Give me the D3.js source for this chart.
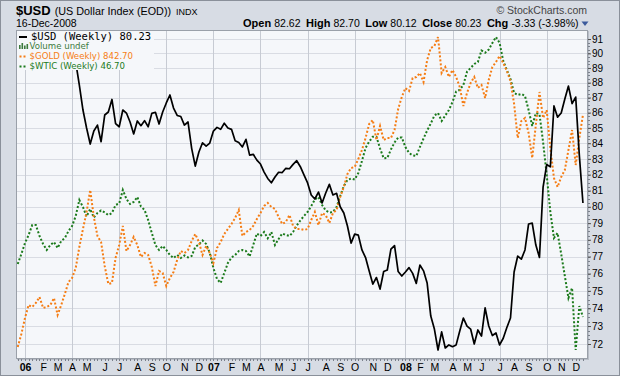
<!DOCTYPE html>
<html lang="en">
<head>
<meta charset="UTF-8">
<title>$USD (US Dollar Index) weekly</title>
<script src="https://d3js.org/d3.v7.min.js"></script>
<style>
  body { margin: 0; background: #fff; }
  svg { display: block; font-family: "Liberation Sans", Arial, sans-serif; }
</style>
</head>
<body>
<svg id="chart" width="620" height="376"></svg>
<script>
// weekly closes, Dec 19 2005 .. Dec 15 2008 (157 bars)
const usd = [
  90.2, 90.5, 90.1, 89.8, 90.3, 90.6, 90.0, 89.7, 89.9, 90.3, 90.5, 90.1, 89.8, 90.0, 89.6, 89.5, 89.4,
  87.84, 86.17, 84.99, 83.95, 84.79, 85.18, 84.10, 85.84, 86.04, 86.87, 85.28, 85.07, 86.17, 85.97,
  85.38, 84.60, 85.45, 85.14, 85.47, 85.07, 85.95, 86.02, 85.25, 86.04, 86.64, 87.17, 86.30, 85.81,
  85.74, 85.18, 85.38, 83.67, 82.54, 83.44, 84.03, 83.82, 84.01, 84.79, 85.03, 84.90, 85.30, 84.99,
  84.90, 84.16, 84.05, 83.76, 84.25, 83.24, 83.29, 82.92, 82.67, 82.16, 81.76, 81.49, 81.85, 82.15,
  82.13, 82.40, 82.37, 82.65, 82.88, 82.50, 81.98, 81.48, 80.73, 80.48, 80.91, 80.23, 80.85, 81.39,
  80.73, 80.83, 80.00, 79.62, 78.83, 77.80, 78.34, 78.28, 77.39, 76.94, 76.15, 75.39, 75.77, 75.10,
  76.12, 76.21, 77.44, 77.65, 76.12, 75.86, 76.09, 76.35, 76.01, 75.43, 76.50, 76.16, 75.45, 73.56,
  72.83, 71.67, 72.67, 71.78, 71.95, 71.85, 71.95, 72.72, 73.45, 73.00, 72.83, 72.00, 72.78, 72.44,
  74.02, 73.00, 72.47, 72.61, 71.95, 72.32, 72.92, 73.45, 76.09, 77.03, 76.85, 77.39, 78.95, 79.00,
  77.68, 76.95, 81.22, 82.64, 82.49, 86.44, 85.70, 85.97, 86.90, 87.77, 86.60, 87.03, 83.24, 80.23
];
const gold = [
  536.5, 556, 580, 599.5, 596.5, 602.5, 611.5, 595, 596.5, 599.5, 610, 584.5, 599.5, 616, 634, 640,
  655, 686.5, 713.5, 739, 772, 731.5, 703, 694, 658, 631, 632.5, 670, 689.5, 718, 680.5, 689.5,
  701.5, 689.5, 671.5, 677.5, 674.5, 656.5, 628, 650.5, 647.5, 628, 640, 649, 667, 680.5, 677.5, 682,
  695.5, 706, 694, 674.5, 688, 677.5, 662.5, 685, 694, 706, 713.5, 721, 730, 742, 703, 709, 712,
  718, 728.5, 737.5, 748, 752.5, 746.5, 743.5, 731.5, 721, 724, 734.5, 718, 713.5, 713.5, 712, 713.5,
  727, 739, 719.5, 737.5, 734.5, 722.5, 737.5, 742, 761.5, 776.5, 796, 805, 806.5, 818.5, 832, 850,
  871, 877, 847, 868, 847, 850, 850, 862, 893.5, 911.5, 925, 920.5, 940, 941.5, 947.5, 934, 967,
  985, 988, 1001.5, 947.5, 956.5, 941.5, 952, 941.5, 926.5, 898, 917.5, 932.5, 941.5, 925, 929.5,
  910, 937, 956.5, 964, 973, 962.5, 950.5, 935.5, 901, 850, 875.5, 880, 857.5, 820, 869.5, 919, 880,
  892, 835, 790, 776.5, 791.5, 802, 832, 862, 809.5, 850, 884.5
];
const wtic = [
  69.0, 72.33, 76.0, 78.67, 82.0, 82.0, 78.33, 75.67, 73.67, 75.33, 76.33, 74.33, 76.67, 77.67, 80.0,
  81.67, 85.0, 90.33, 88.0, 84.83, 87.33, 84.5, 86.0, 86.83, 86.17, 85.33, 86.0, 88.67, 89.17, 93.67,
  90.67, 89.0, 89.67, 91.33, 88.17, 87.0, 83.67, 79.33, 75.33, 73.67, 75.0, 73.67, 72.0, 71.0, 72.0,
  71.0, 71.83, 71.17, 71.67, 74.67, 75.5, 76.83, 75.67, 72.67, 67.67, 64.0, 62.67, 66.0, 69.33, 71.17,
  72.0, 73.33, 73.67, 73.33, 71.5, 75.33, 79.17, 78.33, 79.67, 77.57, 79.67, 75.33, 77.33, 79.17,
  78.67, 78.33, 79.67, 81.83, 83.5, 85.0, 86.33, 88.33, 90.5, 91.33, 88.67, 86.83, 86.17, 86.33, 88.0,
  91.67, 95.0, 97.0, 97.5, 97.17, 99.33, 103.33, 107.67, 109.77, 111.43, 111.43, 107.5, 104.23,
  104.33, 107.17, 109.5, 111.17, 111.17, 108.0, 106.0, 105.23, 105.0, 108.0, 110.83, 113.5, 115.83,
  118.5, 119.33, 116.67, 118.5, 120.33, 123.0, 126.5, 127.07, 128.67, 133.1, 134.33, 135.67, 136.33,
  140.17, 139.43, 140.5, 142.67, 144.67, 142.67, 136.67, 133.67, 130.67, 126.0, 125.33, 125.67, 125.0,
  120.33, 115.0, 119.33, 119.0, 109.67, 98.67, 86.33, 77.67, 79.33, 72.33, 65.0, 57.67, 61.0, 40.33,
  55.0, 51.33
];
const priceTicks = d3.range(72, 92);
const monthLetters = ["J", "F", "M", "A", "M", "J", "J", "A", "S", "O", "N", "D"];
const legendItems = [
  { label: "Volume undef", color: "#3c7a3c", kind: "vol" },
  { label: "$GOLD (Weekly) 842.70", color: "#f57d14", kind: "dots" },
  { label: "$WTIC (Weekly) 46.70", color: "#1b7a1b", kind: "dots" }
];

const weeks = d3.timeMonday.range(new Date(2005, 11, 19), new Date(2008, 11, 16));

const W = 620, H = 376;
const plot = { left: 16, top: 30, right: 588, bottom: 359 };

const svg = d3.select('#chart');

// frame
svg.append('rect').attr('width', W).attr('height', H).attr('fill', '#d7dce4');
svg.append('rect').attr('x', 0.5).attr('y', 0.5).attr('width', W - 1).attr('height', H - 1)
  .attr('fill', 'none').attr('stroke', '#8a909a');

// scales
const x = d3.scaleLinear().domain([0, weeks.length - 1]).range([17.75, 582.94]);
const y = d3.scaleLog().domain([72, 91]).range([344, 39]);
const yGold = d3.scaleLinear().domain([500, 1000]).range([371.33, 38]);
const yWtic = d3.scaleLinear().domain([40, 145]).range([351, 36]);

// plot area
svg.append('rect')
  .attr('x', plot.left + 1).attr('y', plot.top + 1)
  .attr('width', plot.right - plot.left).attr('height', plot.bottom - plot.top)
  .attr('fill', '#b9bec7');
svg.append('rect')
  .attr('x', plot.left).attr('y', plot.top)
  .attr('width', plot.right - plot.left).attr('height', plot.bottom - plot.top)
  .attr('fill', '#f5f7fa');

svg.append('clipPath').attr('id', 'clip').append('rect')
  .attr('x', plot.left).attr('y', plot.top)
  .attr('width', plot.right - plot.left).attr('height', plot.bottom - plot.top);

const g = svg.append('g').attr('clip-path', 'url(#clip)');

// month starts
const monthStarts = [];
weeks.forEach((d, i) => {
  if (i > 0 && d.getMonth() !== weeks[i - 1].getMonth()) monthStarts.push(i);
});
const quarterStarts = monthStarts.filter(i => weeks[i].getMonth() % 3 === 0);

// grid
g.selectAll('.hgrid').data(priceTicks).enter().append('line')
  .attr('x1', plot.left).attr('x2', plot.right)
  .attr('y1', d => Math.round(y(d)) + 0.5).attr('y2', d => Math.round(y(d)) + 0.5)
  .attr('stroke', '#d9dce3');
g.selectAll('.vgrid').data(quarterStarts).enter().append('line')
  .attr('y1', plot.top).attr('y2', plot.bottom)
  .attr('x1', d => Math.round(x(d)) + 0.5).attr('x2', d => Math.round(x(d)) + 0.5)
  .attr('stroke', '#c7cbd3');

// overlays
const goldLine = d3.line().x((d, i) => x(i)).y(d => yGold(d));
const wticLine = d3.line().x((d, i) => x(i)).y(d => yWtic(d));
const usdLine = d3.line().x((d, i) => x(i)).y(d => y(d));

g.append('path').datum(wtic).attr('d', wticLine)
  .attr('fill', 'none').attr('stroke', '#1b7a1b').attr('stroke-width', 2)
  .attr('stroke-dasharray', '2,2');
g.append('path').datum(gold).attr('d', goldLine)
  .attr('fill', 'none').attr('stroke', '#f57d14').attr('stroke-width', 2)
  .attr('stroke-dasharray', '2,2');
g.append('path').datum(usd).attr('d', usdLine)
  .attr('fill', 'none').attr('stroke', '#000').attr('stroke-width', 1.7)
  .attr('stroke-linejoin', 'round');

// legend
svg.append('rect').attr('x', plot.left + 1).attr('y', plot.top + 1)
  .attr('width', 137).attr('height', 39).attr('fill', '#f5f7fa');
svg.append('line').attr('x1', 19).attr('x2', 27).attr('y1', 37).attr('y2', 37)
  .attr('stroke', '#000').attr('stroke-width', 2);
svg.append('text').attr('x', 31).attr('y', 40)
  .style('font-family', '"DejaVu Sans Mono", monospace').style('font-size', '10.5px')
  .text('$USD (Weekly) 80.23');

legendItems.forEach((it, k) => {
  const ly = 49 + k * 10;
  if (it.kind === 'vol') {
    [[19, 4], [21.5, 6], [24, 3.5], [26.5, 5]].forEach(b => {
      svg.append('rect').attr('x', b[0]).attr('y', ly - b[1]).attr('width', 1.6).attr('height', b[1])
        .attr('fill', it.color);
    });
  } else {
    [19.5, 23.5].forEach(px => {
      svg.append('rect').attr('x', px).attr('y', ly - 3.5).attr('width', 2).attr('height', 2)
        .attr('fill', it.color);
    });
  }
  svg.append('text').attr('x', 29.5).attr('y', ly)
    .style('font-family', '"DejaVu Sans", sans-serif').style('font-size', '8.6px')
    .attr('fill', it.color).text(it.label);
});

// plot border
svg.append('rect')
  .attr('x', plot.left + 0.5).attr('y', plot.top + 0.5)
  .attr('width', plot.right - plot.left - 1).attr('height', plot.bottom - plot.top - 1)
  .attr('fill', 'none').attr('stroke', '#9aa0a9');

// right axis
const minorTicks = d3.range(72, 91.01, 0.25);
svg.append('g').selectAll('line').data(minorTicks).enter().append('line')
  .attr('x1', plot.right).attr('x2', plot.right + 2)
  .attr('y1', d => Math.round(y(d)) + 0.5).attr('y2', d => Math.round(y(d)) + 0.5)
  .attr('stroke', '#7a808a');
const yAxis = d3.axisRight(y).tickValues(priceTicks).tickFormat(d3.format('d')).tickSize(3).tickPadding(1);
const ya = svg.append('g').attr('transform', `translate(${plot.right},0)`).call(yAxis);
ya.select('.domain').remove();
ya.selectAll('.tick line').attr('stroke', '#555');
ya.selectAll('.tick text').style('font-size', '10px').style('font-family', '"Liberation Sans", Arial, sans-serif')
  .attr('fill', '#000');

// bottom axis
svg.append('g').selectAll('line').data(weeks.map((d, i) => i)).enter().append('line')
  .attr('x1', d => Math.round(x(d)) + 0.5).attr('x2', d => Math.round(x(d)) + 0.5)
  .attr('y1', plot.bottom).attr('y2', plot.bottom + 2)
  .attr('stroke', '#7a808a');
const xAxis = d3.axisBottom(x).tickValues(monthStarts).tickSize(0).tickPadding(5)
  .tickFormat(i => {
    const d = weeks[i];
    return d.getMonth() === 0 ? d3.timeFormat('%y')(d) : monthLetters[d.getMonth()];
  });
const xa = svg.append('g').attr('transform', `translate(0,${plot.bottom})`).call(xAxis);
xa.select('.domain').remove();
xa.selectAll('.tick text')
  .style('font-size', '10.5px').style('font-family', '"Liberation Sans", Arial, sans-serif')
  .attr('fill', '#000')
  .style('font-weight', i => weeks[i].getMonth() === 0 ? 'bold' : 'normal');

// header
const title = svg.append('text').attr('x', 16).attr('y', 15);
title.append('tspan').style('font-weight', 'bold').style('font-size', '13px').text('$USD');
title.append('tspan').attr('dx', 4).style('font-size', '10.8px').text('(US Dollar Index (EOD))');
title.append('tspan').attr('dx', 5).style('font-size', '9px').text('INDX');

svg.append('text').attr('x', 16).attr('y', 26.5).style('font-size', '10.5px').text('16-Dec-2008');

svg.append('text').attr('x', 587).attr('y', 14).attr('text-anchor', 'end')
  .style('font-size', '10.5px').attr('fill', '#444').text('\u00a9 StockCharts.com');

const quote = [["Open", "82.62"], ["High", "82.70"], ["Low", "80.12"], ["Close", "80.23"], ["Chg", "-3.33 (-3.98%)"]];
const qt = svg.append('text').attr('x', 578.5).attr('y', 26.5).attr('text-anchor', 'end')
  .style('font-size', '10.5px');
quote.forEach((q, k) => {
  qt.append('tspan').style('font-weight', 'bold').style('font-size', '11px')
    .text((k > 0 ? '\u2002' : '') + q[0] + ' ');
  qt.append('tspan').text(q[1]);
});
svg.append('path').attr('d', 'M581.5,21.5 L588.5,21.5 L585,26 Z').attr('fill', '#3b5a9c');
</script>
</body>
</html>
